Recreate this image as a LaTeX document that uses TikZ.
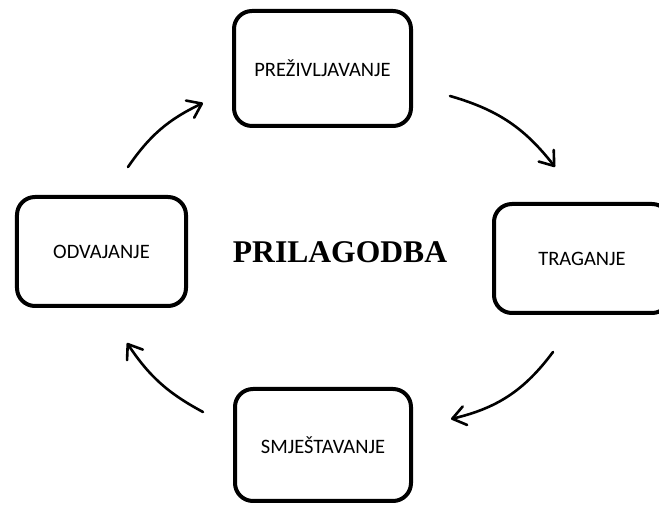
\documentclass[tikz,border=0pt]{standalone}
\usepackage{fontspec}
\setmainfont{Liberation Serif}
\newfontfamily\boxfont{Carlito}
\usetikzlibrary{arrows.meta}
\begin{document}
\begin{tikzpicture}[x=1bp,y=1bp,
  stagebox/.style={draw, line width=4bp, rounded corners=18bp, fill=white,
    inner sep=0pt, font=\boxfont\fontsize{20.5bp}{24bp}\selectfont},
  cyclearrow/.style={line width=2.6bp, line cap=round,
    -{Straight Barb[length=13bp,width=19bp,line width=2.6bp,round]}}]
\useasboundingbox (0,0) rectangle (659,505);
\node[stagebox, minimum width=177bp, minimum height=115bp] (prez) at (322.5,436.5) {PREŽIVLJAVANJE};
\node[stagebox, minimum width=176bp, minimum height=109bp] (trag) at (582,246.5) {TRAGANJE};
\node[stagebox, minimum width=176bp, minimum height=112bp] (smje) at (323,60) {SMJEŠTAVANJE};
\node[stagebox, minimum width=169bp, minimum height=109bp] (odva) at (101.5,253.5) {ODVAJANJE};
\node[font=\bfseries\fontsize{31.6bp}{36bp}\selectfont] (title) at (340,252.5) {PRILAGODBA};
\coordinate (a1s) at (128,338);
\coordinate (a1e) at (203,402);
\coordinate (a2s) at (450,409);
\coordinate (a2e) at (555,338);
\coordinate (a3s) at (553,153);
\coordinate (a3e) at (451,86);
\coordinate (a4s) at (203,93);
\coordinate (a4e) at (127,162);
\draw[cyclearrow] (a1s) to[bend left=15] (a1e);
\draw[cyclearrow] (a2s) to[bend left=18] (a2e);
\draw[cyclearrow] (a3s) to[bend left=20] (a3e);
\draw[cyclearrow] (a4s) to[bend left=14] (a4e);
\end{tikzpicture}
\end{document}
